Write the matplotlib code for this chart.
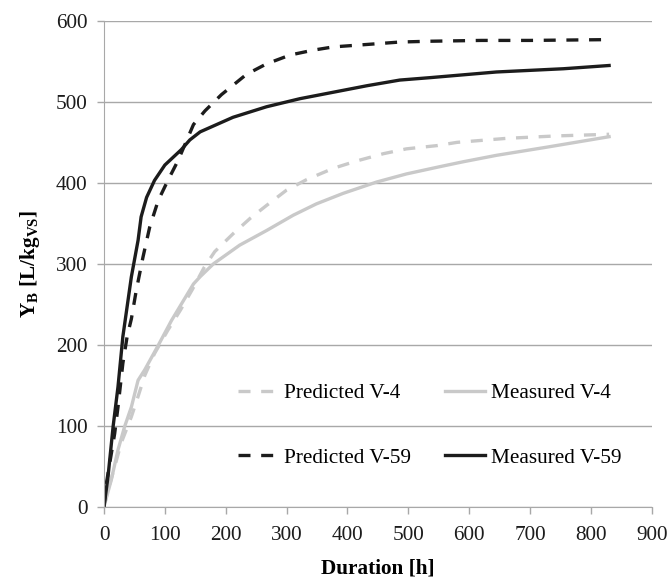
import numpy as np
from matplotlib import pyplot as plt

plt.rcParams['font.family'] = ['Liberation Serif', 'DejaVu Serif']
plt.rcParams['mathtext.fontset'] = 'custom'
plt.rcParams['mathtext.rm'] = 'Liberation Serif'
plt.rcParams['mathtext.bf'] = 'Liberation Serif:bold'

# biogas yield curves, hours vs L/kg VS
t_pred59 = [0, 4, 17.5, 23, 31, 38, 45, 53, 64, 75, 89, 105, 122, 147, 166, 193, 234, 267, 306, 344, 377, 432, 486, 536, 620, 700, 830]
y_pred59 = [0, 29, 90, 123, 177, 210, 232, 267, 308, 345, 378, 403, 428, 472, 489, 509, 534, 547, 558, 564, 568, 571, 574, 575, 576, 576, 577]

t_meas59 = [0, 6.6, 15, 23, 31, 45, 56, 61, 70, 83, 100, 127, 141, 158, 212, 267, 322, 377, 432, 486, 536, 645, 755, 830]
y_meas59 = [0, 37, 99, 148, 210, 284, 329, 358, 382, 403, 422, 441, 453, 463, 481, 494, 504, 512, 520, 527, 530, 537, 541, 545]

t_pred4 = [0, 6.6, 17.5, 28, 45, 56, 67, 83, 105, 125, 145, 165, 182, 212, 240, 267, 300, 333, 377, 415, 459, 497, 547, 580, 662, 744, 830]
y_pred4 = [0, 20, 49, 78, 111, 136, 162, 189, 218, 242, 268, 296, 315, 337, 356, 372, 391, 404, 418, 427, 436, 442, 446, 450, 455, 458, 460]

t_meas4 = [0, 12, 23, 34, 45, 56, 67, 89, 111, 147, 158, 180, 223, 267, 311, 349, 393, 448, 497, 552, 590, 645, 727, 830]
y_meas4 = [0, 33, 70, 99, 123, 156, 169, 199, 230, 275, 284, 300, 323, 341, 360, 374, 387, 401, 411, 420, 426, 434, 444, 457]

grey = '#c9c9c9'
black = '#1c1c1c'
fs = 15.3

fig = plt.figure(figsize=(6.71, 5.83), dpi=100)
ax = fig.add_axes([104 / 671, 1 - 506.5 / 583, (651.7 - 104) / 671, (506.5 - 21) / 583])

dash = (3.6, 3.2)
p4, = ax.plot(t_pred4, y_pred4, color=grey, lw=2.4, dashes=dash)
m4, = ax.plot(t_meas4, y_meas4, color=grey, lw=2.4)
p59, = ax.plot(t_pred59, y_pred59, color=black, lw=2.4, dashes=dash)
m59, = ax.plot(t_meas59, y_meas59, color=black, lw=2.4)

ax.set_xlim(0, 900)
ax.set_ylim(0, 600)
ax.set_xticks(np.arange(0, 901, 100))
ax.set_yticks(np.arange(0, 601, 100))
ax.yaxis.grid(True, color='#a8a8a8', lw=1.0)
ax.set_axisbelow(True)
for s in ['top', 'right']:
    ax.spines[s].set_visible(False)
for s in ['left', 'bottom']:
    ax.spines[s].set_color('#a8a8a8')
ax.tick_params(colors='#a8a8a8', length=5, width=1.0, labelsize=fs, labelcolor='#1c1c1c')
ax.tick_params(axis='x', pad=9)
ax.tick_params(axis='y', pad=7)

ax.set_xlabel('Duration [h]', fontsize=fs, fontweight='bold', labelpad=10)
ax.set_ylabel(r'Y$_\mathbf{B}$ [L/kg$_\mathbf{VS}$]', fontsize=fs, fontweight='bold', labelpad=10)

ax.legend([p4, p59, m4, m59], ['Predicted V-4', 'Predicted V-59', 'Measured V-4', 'Measured V-59'],
          ncol=2, frameon=False, fontsize=fs, handlelength=1.9, handletextpad=0.25,
          columnspacing=1.6, labelspacing=2.1, loc='lower left', bbox_to_anchor=(0.245, 0.08),
          borderpad=0, borderaxespad=0)

fig.savefig('out.png', dpi=100)
